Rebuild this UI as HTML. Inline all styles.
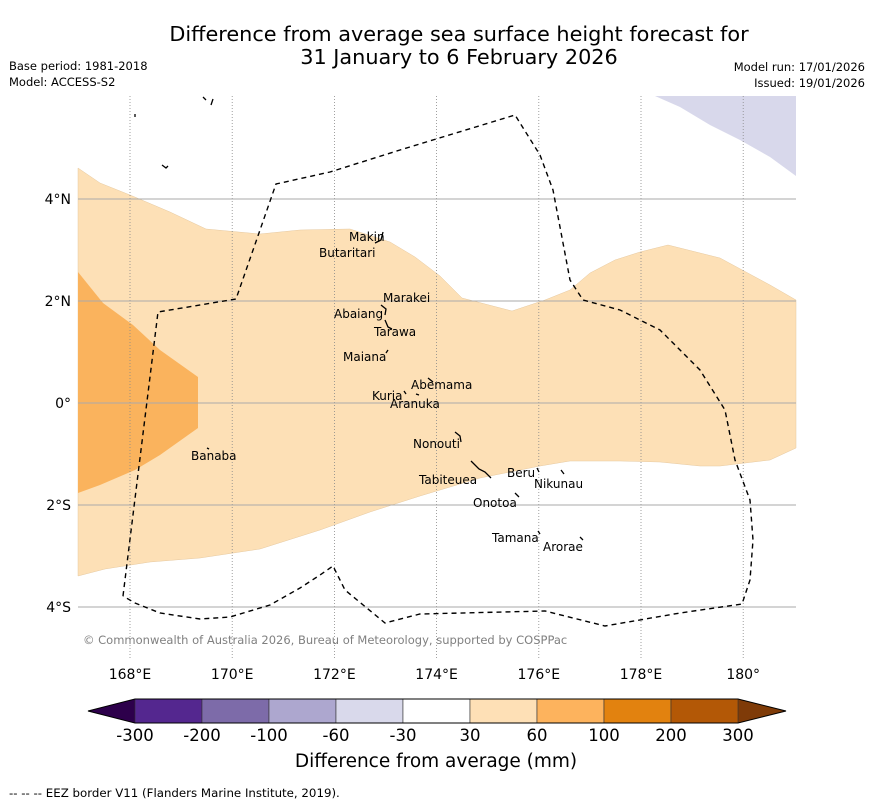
<!DOCTYPE html>
<html><head><meta charset="utf-8"><style>
body{margin:0;background:#fff;width:873px;height:804px;overflow:hidden;font-family:"DejaVu Sans","Liberation Sans",sans-serif;}
svg{position:absolute;left:0;top:0}
</style></head><body>
<svg width="873" height="804">
<text x="459" y="41" font-size="20.8" text-anchor="middle">Difference from average sea surface height forecast for</text>
<text x="459" y="64" font-size="20.8" text-anchor="middle">31 January to 6 February 2026</text>
<text x="9" y="70" font-size="11.5">Base period: 1981-2018</text>
<text x="9" y="86" font-size="11.5">Model: ACCESS-S2</text>
<text x="865" y="71" font-size="11.5" text-anchor="end">Model run: 17/01/2026</text>
<text x="865" y="87" font-size="11.5" text-anchor="end">Issued: 19/01/2026</text>
<g id="map">
<polygon fill="#fde0b6" stroke="#e6c9a0" stroke-width="0.5" points="78,168 100,183 130,195 170,212 206,229 260,234 300,230 350,229 390,242 415,257 440,276 462,298 512,311 545,300 570,290 590,273 615,260 640,252 668,245 720,258 770,285 796,300 796,448 770,460 720,466 700,466 660,462 620,461 570,461 540,466 480,478 420,496 370,512 320,530 260,549 200,558 150,562 105,569 78,576"/>
<polygon fill="#fab35d" points="78,272 103,303 133,325 160,350 198,377 198,428 160,455 135,470 100,485 78,493"/>
<polygon fill="#d8d8eb" points="655,96 680,107 710,125 740,140 770,157 796,176 796,96"/>
<g id="grid"></g>
<polyline fill="none" stroke="#000" stroke-width="1.4" stroke-dasharray="5,4" points="123,596 158,312 236,299 276,184 330,172 400,150 515,115 540,155 553,190 570,280 583,300 620,310 660,330 700,370 725,410 735,460 750,500 753,540 750,580 742,604 680,613 605,626 545,611 420,614 385,623 345,590 333,566 320,575 300,588 270,605 230,617 200,619 160,613 135,603 123,596"/>
<g id="islands" stroke="#000" stroke-width="1.3" fill="none">
<path d="M135,114 v3 M203,97 l3,3 M213,99 l-2,6 M162,165 l4,3 l2,-2 M383,232 l-2,8 l-6,3 M381,305 l5,4 l-1,6 M385,320 l3,7 l4,2 M386,353 l2,-3 M428,378 l5,4 M404,391 l2,3 M416,394 l3,1 M455,432 l5,4 l1,6 M471,461 l8,8 l6,3 l6,6 M537,468 l2,4 M561,470 l3,4 M515,493 l4,4 M538,531 l2,3 M580,537 l3,3 M207,448 l2,1"/>
</g>
<g font-size="12">
<text x="349" y="241">Makin</text><text x="319" y="257">Butaritari</text>
<text x="383" y="302">Marakei</text><text x="334" y="318">Abaiang</text>
<text x="374" y="336">Tarawa</text><text x="343" y="361">Maiana</text>
<text x="411" y="389">Abemama</text><text x="372" y="400">Kuria</text>
<text x="390" y="408">Aranuka</text><text x="413" y="448">Nonouti</text>
<text x="191" y="460">Banaba</text><text x="419" y="484">Tabiteuea</text>
<text x="507" y="477">Beru</text><text x="534" y="488">Nikunau</text>
<text x="473" y="507">Onotoa</text><text x="492" y="542">Tamana</text>
<text x="543" y="551">Arorae</text>
</g>
<text x="83" y="644" font-size="11.5" fill="#808080">© Commonwealth of Australia 2026, Bureau of Meteorology, supported by COSPPac</text>
</g>
<g id="axes"></g>
<g id="cbar"></g>
<text x="436" y="767" font-size="18.5" text-anchor="middle">Difference from average (mm)</text>
<text x="9" y="797" font-size="11.8">--  --  -- EEZ border V11 (Flanders Marine Institute, 2019).</text>
</svg>
<script>
const lonTicks=[168,170,172,174,176,178,180];
const latTicks=[4,2,0,-2,-4];
const cbBounds=[-300,-200,-100,-60,-30,30,60,100,200,300];
const cbColors=["#54278f","#7d6ba9","#ada7cf","#d9d9eb","#ffffff","#fee0b6","#fdb35d","#e2820f","#b35806"];
const ns="http://www.w3.org/2000/svg";
const x=lon=>130+(lon-168)*51.1;
const y=lat=>403-lat*51;
function mk(tag,attrs,parent){const e=document.createElementNS(ns,tag);for(const k in attrs)e.setAttribute(k,attrs[k]);parent.appendChild(e);return e;}
const grid=document.getElementById('grid'),axes=document.getElementById('axes');
lonTicks.forEach(l=>{
 const g=mk('line',{x1:x(l),x2:x(l),y1:96,y2:660,stroke:'#888','stroke-width':0.8,'stroke-dasharray':'1,2'},grid);
 
 
 const t=mk('text',{x:x(l),y:679,'font-size':14,'text-anchor':'middle'},axes);
 t.textContent=l===180?'180°':l+'°E';
 
 
});
latTicks.forEach(l=>{
 const g=mk('line',{x1:78,x2:796,y1:y(l),y2:y(l),stroke:'#aaa','stroke-width':1},grid);
 
 
 const t=mk('text',{x:71,y:y(l)+5,'font-size':14,'text-anchor':'end'},axes);
 t.textContent=l===0?'0°':Math.abs(l)+'°'+(l>0?'N':'S');
 
 
});
const cb=document.getElementById('cbar');
const cx0=135,cw=67,cy=699,ch=24;
let tri=mk('polygon',{points:`88,${cy+ch/2} ${cx0},${cy} ${cx0},${cy+ch}`,fill:'#2d004b'},cb);


const n=cbColors.length;
tri=mk('polygon',{points:`${cx0+n*cw},${cy} ${cx0+n*cw+48},${cy+ch/2} ${cx0+n*cw},${cy+ch}`,fill:'#7f3b08'},cb);


cbColors.forEach((c,i)=>{
 const r=mk('rect',{x:cx0+i*cw,y:cy,width:cw,height:ch,fill:c,stroke:'#333','stroke-width':0.6},cb);
 
 
});
mk('polygon',{points:`88,${cy+ch/2} ${cx0},${cy} ${cx0+n*cw},${cy} ${cx0+n*cw+48},${cy+ch/2} ${cx0+n*cw},${cy+ch} ${cx0},${cy+ch}`,fill:'none',stroke:'#000','stroke-width':1},cb);
cbBounds.forEach((b,i)=>{
 const t=mk('text',{x:cx0+i*cw,y:741,'font-size':16.5,'text-anchor':'middle'},cb);
 t.textContent=b;
 
 
});
</script>
</body></html>
